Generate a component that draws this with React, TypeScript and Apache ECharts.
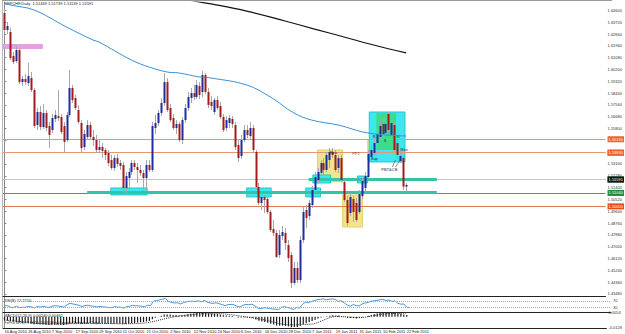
import React, { useEffect, useRef } from "react";
import * as echarts from "echarts";

// ---------- data ----------
const dateLabels = [
  "16 Aug 2010", "26 Aug 2010", "7 Sep 2010", "17 Sep 2010", "29 Sep 2010", "11 Oct 2010",
  "21 Oct 2010", "2 Nov 2010", "12 Nov 2010", "24 Nov 2010", "6 Dec 2010", "16 Dec 2010",
  "28 Dec 2010", "7 Jan 2011", "19 Jan 2011", "31 Jan 2011", "10 Feb 2011", "22 Feb 2011",
];

const opens = [
  1.6441, 1.6314, 1.6299, 1.6120, 1.6083, 1.6165, 1.5926, 1.5949, 1.5919, 1.5956,
  1.5867, 1.5606, 1.5703, 1.5591, 1.5696, 1.5599, 1.5569, 1.5651, 1.5673, 1.5666,
  1.5599, 1.5494, 1.5681, 1.5882, 1.5807, 1.5718, 1.5621, 1.5442, 1.5517, 1.5606,
  1.5517, 1.5494, 1.5420, 1.5442, 1.5420, 1.5398, 1.5345, 1.5286, 1.5360, 1.5323,
  1.5308, 1.5137, 1.5211, 1.5256, 1.5323, 1.5293, 1.5271, 1.5249, 1.5211, 1.5308,
  1.5271, 1.5584, 1.5621, 1.5696, 1.5770, 1.5926, 1.5733, 1.5658, 1.5584, 1.5614,
  1.5494, 1.5643, 1.5733, 1.5807, 1.5844, 1.5815, 1.5897, 1.5852, 1.5979, 1.5852,
  1.5778, 1.5703, 1.5792, 1.5748, 1.5666, 1.5584, 1.5621, 1.5651, 1.5606, 1.5457,
  1.5375, 1.5494, 1.5569, 1.5524, 1.5584, 1.5405, 1.5144, 1.5025, 1.5070, 1.5055,
  1.4958, 1.4831, 1.4802, 1.4638, 1.4779, 1.4802, 1.4712, 1.4638, 1.4429, 1.4541,
  1.4451, 1.4749, 1.4973, 1.4928, 1.5010, 1.5122, 1.5196, 1.5249, 1.5323, 1.5271,
  1.5345, 1.5405, 1.5383, 1.5286, 1.5360, 1.5182, 1.5047, 1.4951, 1.5055, 1.5025,
  1.4958, 1.5077, 1.5137, 1.5219, 1.5368, 1.5398, 1.5472, 1.5517, 1.5614, 1.5547,
  1.5688, 1.5532, 1.5606, 1.5472, 1.5338, 1.5360, 1.51469,
];
const highs = [
  1.6470, 1.6374, 1.6329, 1.6150, 1.6195, 1.6180, 1.5971, 1.5986, 1.6068, 1.6001,
  1.5882, 1.5733, 1.5748, 1.5763, 1.5718, 1.5629, 1.5688, 1.5718, 1.5867, 1.5688,
  1.5629, 1.5703, 1.6016, 1.5904, 1.5830, 1.5755, 1.5643, 1.5569, 1.5643, 1.5629,
  1.5569, 1.5532, 1.5494, 1.5472, 1.5435, 1.5420, 1.5383, 1.5383, 1.5390, 1.5345,
  1.5331, 1.5256, 1.5286, 1.5345, 1.5345, 1.5323, 1.5308, 1.5271, 1.5345, 1.5345,
  1.5629, 1.5681, 1.5718, 1.5807, 1.5994, 1.5956, 1.5763, 1.5688, 1.5643, 1.5629,
  1.5666, 1.5763, 1.5852, 1.5882, 1.5904, 1.5941, 1.5926, 1.6009, 1.5994, 1.5882,
  1.5822, 1.5807, 1.5822, 1.5778, 1.5688, 1.5673, 1.5681, 1.5673, 1.5629, 1.5494,
  1.5532, 1.5606, 1.5606, 1.5629, 1.5606, 1.5420, 1.5174, 1.5100, 1.5085, 1.5085,
  1.4973, 1.4898, 1.4824, 1.4824, 1.4854, 1.4839, 1.4749, 1.4660, 1.4586, 1.4586,
  1.4779, 1.5003, 1.5010, 1.5047, 1.5152, 1.5256, 1.5286, 1.5345, 1.5360, 1.5405,
  1.5435, 1.5435, 1.5420, 1.5383, 1.5383, 1.5196, 1.5077, 1.5100, 1.5077, 1.5062,
  1.5122, 1.5211, 1.5256, 1.5420, 1.5457, 1.5509, 1.5584, 1.5643, 1.5658, 1.5658,
  1.5703, 1.5643, 1.5629, 1.5494, 1.5420, 1.5375, 1.51739,
];
const lows = [
  1.6299, 1.6284, 1.6090, 1.6061, 1.6068, 1.5912, 1.5897, 1.5904, 1.5897, 1.5852,
  1.5584, 1.5569, 1.5569, 1.5576, 1.5561, 1.5435, 1.5547, 1.5629, 1.5636, 1.5539,
  1.5398, 1.5480, 1.5666, 1.5770, 1.5718, 1.5614, 1.5405, 1.5420, 1.5494, 1.5494,
  1.5450, 1.5398, 1.5398, 1.5360, 1.5345, 1.5301, 1.5271, 1.5264, 1.5293, 1.5271,
  1.5107, 1.5100, 1.5122, 1.5234, 1.5271, 1.5174, 1.5226, 1.5114, 1.5114, 1.5256,
  1.5256, 1.5539, 1.5599, 1.5673, 1.5748, 1.5703, 1.5629, 1.5569, 1.5539, 1.5480,
  1.5465, 1.5621, 1.5711, 1.5770, 1.5792, 1.5800, 1.5800, 1.5815, 1.5837, 1.5733,
  1.5718, 1.5681, 1.5718, 1.5651, 1.5554, 1.5561, 1.5584, 1.5584, 1.5420, 1.5331,
  1.5353, 1.5480, 1.5509, 1.5494, 1.5398, 1.5122, 1.5010, 1.4973, 1.4951, 1.4943,
  1.4809, 1.4779, 1.4615, 1.4615, 1.4749, 1.4675, 1.4586, 1.4392, 1.4414, 1.4429,
  1.4429, 1.4727, 1.4839, 1.4898, 1.4988, 1.5100, 1.5174, 1.5226, 1.5234, 1.5256,
  1.5286, 1.5360, 1.5256, 1.5249, 1.5182, 1.5033, 1.4854, 1.4928, 1.4884, 1.4884,
  1.4943, 1.5055, 1.5114, 1.5204, 1.5331, 1.5375, 1.5450, 1.5494, 1.5517, 1.5524,
  1.5554, 1.5509, 1.5405, 1.5353, 1.5323, 1.5122, 1.51139,
];
const closes = [
  1.6314, 1.6344, 1.6105, 1.6076, 1.6165, 1.5926, 1.5949, 1.5926, 1.5971, 1.5867,
  1.5599, 1.5703, 1.5591, 1.5696, 1.5584, 1.5532, 1.5658, 1.5681, 1.5658, 1.5554,
  1.5480, 1.5681, 1.5882, 1.5792, 1.5733, 1.5629, 1.5435, 1.5539, 1.5606, 1.5517,
  1.5494, 1.5420, 1.5442, 1.5413, 1.5383, 1.5323, 1.5286, 1.5360, 1.5316, 1.5301,
  1.5137, 1.5226, 1.5256, 1.5323, 1.5293, 1.5271, 1.5249, 1.5211, 1.5308, 1.5271,
  1.5599, 1.5621, 1.5696, 1.5770, 1.5926, 1.5718, 1.5643, 1.5584, 1.5614, 1.5494,
  1.5643, 1.5733, 1.5815, 1.5844, 1.5815, 1.5904, 1.5830, 1.5979, 1.5852, 1.5755,
  1.5748, 1.5792, 1.5733, 1.5666, 1.5569, 1.5643, 1.5658, 1.5614, 1.5442, 1.5360,
  1.5494, 1.5569, 1.5532, 1.5584, 1.5420, 1.5144, 1.5025, 1.5070, 1.5047, 1.4958,
  1.4824, 1.4802, 1.4623, 1.4787, 1.4809, 1.4727, 1.4615, 1.4429, 1.4541, 1.4451,
  1.4749, 1.4958, 1.4913, 1.5025, 1.5122, 1.5219, 1.5256, 1.5323, 1.5271, 1.5383,
  1.5405, 1.5383, 1.5271, 1.5360, 1.5196, 1.5047, 1.4876, 1.5070, 1.4958, 1.4898,
  1.5092, 1.5189, 1.5226, 1.5390, 1.5420, 1.5472, 1.5539, 1.5599, 1.5539, 1.5614,
  1.5569, 1.5621, 1.5420, 1.5383, 1.5375, 1.5147, 1.51591,
];

// moving averages read at key bars: [bar index, value]
const blueMaPoints = [
  [0, 1.6515], [2, 1.65], [10, 1.6463], [21, 1.6336], [30, 1.6239], [32, 1.6224],
  [43, 1.609], [49, 1.6038], [55, 1.6001], [59, 1.5994], [66, 1.5964], [70, 1.5956],
  [82, 1.5904], [90, 1.5815], [98, 1.5696], [104, 1.5643], [113, 1.5606], [123, 1.5547],
  [136, 1.5524],
];
const blackMaPoints = [
  [60, 1.6555], [64, 1.653], [70, 1.6508], [82, 1.6455], [95, 1.6381], [105, 1.6321],
  [115, 1.6262], [125, 1.6202], [136, 1.6143],
];

const rsiValues = [
  38, 40, 30, 28, 36, 27, 30, 29, 35, 32, 25, 35, 30, 36, 31, 29, 37, 39, 38, 34,
  31, 45, 55, 50, 46, 42, 34, 40, 42, 38, 36, 32, 34, 32, 31, 28, 27, 33, 31, 30,
  24, 33, 36, 41, 39, 38, 36, 33, 42, 40, 68, 72, 76, 80, 85, 66, 60, 56, 58, 50,
  58, 63, 67, 68, 65, 70, 64, 72, 62, 56, 54, 58, 52, 46, 40, 46, 48, 45, 36, 31,
  42, 48, 45, 49, 38, 25, 20, 26, 25, 22, 18, 18, 15, 30, 33, 28, 22, 16, 28, 24,
  48, 62, 58, 66, 72, 77, 79, 82, 76, 80, 81, 79, 66, 70, 57, 44, 36, 46, 41, 38,
  50, 57, 60, 68, 70, 73, 76, 79, 72, 75, 66, 70, 54, 49, 50, 30, 27.221,
];

const macdValues = [
  -0.0045, -0.0048, -0.0055, -0.0062, -0.0064, -0.0072, -0.0076, -0.008, -0.008, -0.0083,
  -0.0092, -0.0094, -0.0097, -0.0097, -0.0099, -0.0102, -0.01, -0.0098, -0.0097, -0.0098,
  -0.0101, -0.0096, -0.0085, -0.008, -0.0078, -0.0078, -0.0083, -0.0082, -0.008, -0.0079,
  -0.008, -0.0083, -0.0084, -0.0085, -0.0086, -0.0088, -0.009, -0.0088, -0.0087, -0.0086,
  -0.0092, -0.009, -0.0086, -0.008, -0.0076, -0.0072, -0.0068, -0.0066, -0.0058, -0.0052,
  -0.003, -0.0012, 0.0002, 0.0014, 0.0028, 0.003, 0.0028, 0.0024, 0.0022, 0.0016,
  0.0018, 0.0024, 0.0032, 0.0038, 0.0041, 0.0046, 0.0046, 0.005, 0.0048, 0.0044,
  0.004, 0.0038, 0.0034, 0.0028, 0.002, 0.0016, 0.0013, 0.001, 0.0002, -0.0008,
  -0.001, -0.0009, -0.001, -0.0009, -0.0016, -0.0034, -0.005, -0.0058, -0.0066, -0.0075,
  -0.0088, -0.0097, -0.011, -0.011, -0.011, -0.0113, -0.012, -0.013, -0.0128, -0.0126,
  -0.0112, -0.0094, -0.0082, -0.0068, -0.0052, -0.0036, -0.0022, -0.001, -0.0002, 0.0008,
  0.0014, 0.0018, 0.0016, 0.0016, 0.001, -0.0001, -0.0014, -0.0014, -0.0016, -0.002,
  -0.0014, -0.0006, 0.0002, 0.0014, 0.0024, 0.0032, 0.004, 0.0048, 0.005, 0.0054,
  0.0054, 0.0055, 0.005, 0.0044, 0.004, 0.003, 0.0024,
];
const signalPoints = [
  [0, -0.004], [8, -0.0068], [16, -0.0092], [24, -0.0086], [32, -0.0082], [40, -0.0087],
  [48, -0.0075], [56, -0.001], [64, 0.0032], [72, 0.004], [80, 0.0008], [88, -0.004],
  [96, -0.01], [104, -0.009], [112, 0.0004], [120, -0.001], [128, 0.0035], [136, 0.0046],
];

const priceTicks = [
  1.4348, 1.4436, 1.4524, 1.4612, 1.47, 1.4788, 1.4876, 1.4964, 1.5052, 1.514, 1.5228,
  1.5316, 1.5404, 1.5492, 1.558, 1.5668, 1.5756, 1.5844, 1.5932, 1.602, 1.6108, 1.6196,
  1.6284, 1.6372, 1.646,
];
const dateTicks = [0, 8, 16, 24, 32, 40, 48, 56, 64, 72, 80, 88, 96, 104, 112, 120, 128, 136];

// horizontal levels (price)
const resistanceLevels = [1.5513, 1.5409, 1.5383];
const supportLevels = [1.5204, 1.5104];
const roundLevel = 1.5;
const bidPrice = 1.51591;

// zones: [barFrom, priceTop, barTo, priceBottom]
const yellowZones = [
  [106, 1.542, 114.5, 1.5182],
  [114.5, 1.5085, 121.2, 1.4846],
  [123, 1.5494, 124.5, 1.5345],
];
const cyanZones = [
  [36, 1.5137, 48.3, 1.5085],
  [82, 1.5137, 90.3, 1.507],
  [102, 1.5137, 107, 1.507],
  [104.4, 1.5234, 110.4, 1.5174],
  [119.5, 1.5226, 122.9, 1.5174],
  [123.5, 1.5703, 135.6, 1.5331],
];
const greenZones = [[125.9, 1.5696, 132.6, 1.542]];
const pinkZones = [[-0.5, 1.621, 13, 1.6172]];
// thick teal segments: [barFrom, barTo, price]
const thickSegments = [
  [28, 146.4, 1.5104],
  [103, 146.4, 1.5204],
];
// text notes: [bar, price, text]
const notes: [number, number, string][] = [
  [111.4, 1.5405, "Res"],
  [119, 1.5394, "PP2"],
  [135.3, 1.542, "Res"],
  [125.2, 1.5524, "R"],
  [133.3, 1.5524, "R"],
  [128.9, 1.5487, "S"],
  [125.2, 1.536, "Sup"],
  [130.3, 1.5271, "PBT&CB"],
];
const noteLinks = [
  [131.3, 1.5292, 132.4, 1.5345],
  [132.3, 1.5292, 134.0, 1.5345],
];

const SLOTS = 204;

function buildOption() {
  const candleData = opens.map((o, i) => [i, o, closes[i], lows[i], highs[i]]);
  const zoneItem = (z: number[], fill: string, border?: string) => [
    {
      coord: [z[0], z[1]],
      itemStyle: { color: fill, borderColor: border || fill, borderWidth: border ? 1 : 0 },
    },
    { coord: [z[2], z[3]] },
  ];
  const lvl = (v: number, line: string, box: string, width = 1) => ({
    yAxis: v,
    lineStyle: { color: line, width, type: "solid" },
    label: {
      show: true,
      position: "end",
      distance: 2,
      formatter: () => v.toFixed(5),
      backgroundColor: box,
      color: "#fff",
      fontSize: 4,
      padding: [1, 1],
    },
  });

  const xAxisBase = (gi: number, showLabels: boolean, lineColor: string) => ({
    type: "value",
    gridIndex: gi,
    min: -0.5,
    max: SLOTS - 0.5,
    splitLine: { show: false },
    axisTick: { show: false },
    axisLine: { show: true, onZero: false, lineStyle: { color: lineColor, width: 1 } },
    axisLabel: showLabels
      ? {
          show: true,
          customValues: dateTicks,
          formatter: (v: number) => dateLabels[Math.round(v / 8)] || "",
          fontSize: 4,
          color: "#222",
          margin: 1,
          align: "left",
          fontFamily: "Arial, Liberation Sans, sans-serif",
        }
      : { show: false },
  });

  return {
    animation: false,
    backgroundColor: "#ffffff",
    grid: [
      { left: 3, top: 2, width: 608, height: 294 },
      { left: 3, top: 296, width: 608, height: 16 },
      { left: 3, top: 312, width: 608, height: 16 },
    ],
    xAxis: [xAxisBase(0, false, "#222"), xAxisBase(1, false, "#222"), xAxisBase(2, true, "#222")],
    yAxis: [
      {
        type: "value",
        gridIndex: 0,
        position: "right",
        min: 1.43322,
        max: 1.65225,
        splitLine: { show: false },
        axisLine: { show: true, lineStyle: { color: "#8a8a8a" } },
        axisTick: { show: true, length: 2, customValues: priceTicks, lineStyle: { color: "#8a8a8a" } },
        axisLabel: {
          customValues: priceTicks,
          formatter: (v: number) => v.toFixed(5),
          fontSize: 4,
          color: "#333",
          margin: 2,
          fontFamily: "Arial, Liberation Sans, sans-serif",
        },
      },
      {
        type: "value",
        gridIndex: 1,
        position: "right",
        min: 0,
        max: 100,
        splitLine: { show: false },
        axisLine: { show: true, lineStyle: { color: "#8a8a8a" } },
        axisTick: { show: false },
        axisLabel: {
          customValues: [70, 30],
          fontSize: 4,
          color: "#333",
          margin: 2,
        },
      },
      {
        type: "value",
        gridIndex: 2,
        position: "right",
        min: -0.014,
        max: 0.006,
        splitLine: { show: false },
        axisLine: { show: true, lineStyle: { color: "#8a8a8a" } },
        axisTick: { show: false },
        axisLabel: {
          customValues: [0.0054, -0.0128],
          formatter: (v: number) => v.toFixed(4),
          fontSize: 4,
          color: "#333",
          margin: 2,
        },
      },
    ],
    graphic: [
      { type: "line", shape: { x1: 2.5, y1: 0, x2: 2.5, y2: 328 }, style: { stroke: "#b8b8b8", lineWidth: 1 } },
      { type: "line", shape: { x1: 2, y1: 0.5, x2: 612, y2: 0.5 }, style: { stroke: "#9a9a9a", lineWidth: 1 } },
      {
        type: "text",
        left: 4,
        top: 1,
        style: {
          text: "GBPCHF,Daily  1.51469 1.51739 1.51139 1.51591",
          fontSize: 4,
          fill: "#222",
          fontFamily: "Arial, Liberation Sans, sans-serif",
        },
      },
      {
        type: "text",
        left: 4,
        top: 298,
        style: { text: "RSI(8) 27.2210", fontSize: 4, fill: "#222", fontFamily: "Arial, Liberation Sans, sans-serif" },
      },
      {
        type: "text",
        left: 4,
        top: 313.5,
        style: {
          text: "MACD(12,26,9) 0.00240 0.00461",
          fontSize: 4,
          fill: "#222",
          fontFamily: "Arial, Liberation Sans, sans-serif",
        },
      },
      {
        type: "text",
        left: 4,
        top: 320,
        style: {
          text: "FxPro MT4, © 2001-2009 MetaQuotes Software Corp.",
          fontSize: 4,
          fill: "#333",
          fontFamily: "Arial, Liberation Sans, sans-serif",
        },
      },
    ],
    series: [
      {
        name: "annotations",
        type: "line",
        xAxisIndex: 0,
        yAxisIndex: 0,
        data: [],
        z: 1,
        silent: true,
        markArea: {
          silent: true,
          data: [
            ...pinkZones.map((z) => zoneItem(z, "#e2a2e2")),
            ...yellowZones.map((z) => zoneItem(z, "#f2e48a", "#e0d070")),
            ...cyanZones.map((z) => zoneItem(z, "#3fe6ee", "#22c8d6")),
            ...greenZones.map((z) => zoneItem(z, "#3ddc8a")),
          ],
        },
        markLine: {
          silent: true,
          symbol: ["none", "none"],
          label: { show: false },
          data: [
            ...resistanceLevels.map((v) => lvl(v, "#e39873", "#f2602a")),
            ...supportLevels.map((v) => lvl(v, "#3aa858", "#1f8a3c")),
            lvl(roundLevel, "#e07a55", "#ee4a1a"),
            lvl(bidPrice, "#c8c8c8", "#111"),
            ...thickSegments.map((s) => [
              { coord: [s[0], s[2]], lineStyle: { color: "#2fc6a4", width: 3, type: "solid" }, label: { show: false } },
              { coord: [s[1], s[2]] },
            ]),
            ...noteLinks.map((s) => [
              { coord: [s[0], s[1]], lineStyle: { color: "#444", width: 0.6, type: "solid" }, label: { show: false } },
              { coord: [s[2], s[3]] },
            ]),
          ],
        },
        markPoint: {
          silent: true,
          symbol: "rect",
          symbolSize: 1,
          itemStyle: { color: "rgba(0,0,0,0)" },
          data: notes.map((n) => ({
            coord: [n[0], n[1]],
            label: {
              show: true,
              formatter: n[2],
              position: "inside",
              fontSize: 4,
              color: n[2] === "PP2" ? "#8a3a16" : "#222",
              fontFamily: "Arial, Liberation Sans, sans-serif",
            },
          })),
        },
      },
      {
        name: "GBPCHF",
        type: "custom",
        xAxisIndex: 0,
        yAxisIndex: 0,
        z: 5,
        data: candleData,
        encode: { x: 0, y: [1, 2, 3, 4] },
        renderItem: (_params: any, api: any) => {
          const i = api.value(0);
          const o = api.value(1);
          const c = api.value(2);
          const l = api.value(3);
          const h = api.value(4);
          const pO = api.coord([i, o]);
          const pC = api.coord([i, c]);
          const pL = api.coord([i, l]);
          const pH = api.coord([i, h]);
          const x = Math.round(pO[0]);
          const up = c >= o;
          const top = Math.min(pO[1], pC[1]);
          const hgt = Math.max(Math.abs(pO[1] - pC[1]), 1);
          return {
            type: "group",
            children: [
              {
                type: "line",
                shape: { x1: x + 0.5, y1: pH[1], x2: x + 0.5, y2: pL[1] },
                style: { stroke: "#a8a8a8", lineWidth: 1 },
              },
              {
                type: "rect",
                shape: { x: x - 0.5, y: top, width: 2, height: hgt },
                style: { fill: up ? "#1f2c9e" : "#a11d1d" },
              },
            ],
          };
        },
      },
      {
        name: "MA blue",
        type: "line",
        xAxisIndex: 0,
        yAxisIndex: 0,
        z: 6,
        data: blueMaPoints,
        smooth: 0.4,
        symbol: "none",
        lineStyle: { color: "#3b8fd8", width: 1 },
      },
      {
        name: "MA black",
        type: "line",
        xAxisIndex: 0,
        yAxisIndex: 0,
        z: 6,
        data: blackMaPoints,
        smooth: 0.4,
        symbol: "none",
        lineStyle: { color: "#111", width: 1.2 },
      },
      {
        name: "RSI(8)",
        type: "line",
        xAxisIndex: 1,
        yAxisIndex: 1,
        data: rsiValues.map((v, i) => [i, v]),
        symbol: "none",
        lineStyle: { color: "#4a95d8", width: 1 },
        markLine: {
          silent: true,
          symbol: ["none", "none"],
          label: { show: false },
          lineStyle: { color: "#aaa", type: "dotted", width: 1 },
          data: [{ yAxis: 70 }, { yAxis: 30 }],
        },
      },
      {
        name: "MACD",
        type: "bar",
        xAxisIndex: 2,
        yAxisIndex: 2,
        data: macdValues.map((v, i) => [i, v]),
        barWidth: 1.2,
        itemStyle: { color: "#1a1a1a" },
      },
      {
        name: "Signal",
        type: "line",
        xAxisIndex: 2,
        yAxisIndex: 2,
        data: signalPoints,
        smooth: 0.3,
        symbol: "none",
        lineStyle: { color: "#333", width: 1, type: "dotted" },
      },
    ],
  };
}

export default function App() {
  const ref = useRef<HTMLDivElement>(null);
  useEffect(() => {
    document.body.style.margin = "0";
    if (!ref.current) return;
    const chart = echarts.init(ref.current, null, { renderer: "svg" });
    chart.setOption(buildOption() as any);
    return () => chart.dispose();
  }, []);
  return <div ref={ref} style={{ width: 625, height: 334 }} />;
}
